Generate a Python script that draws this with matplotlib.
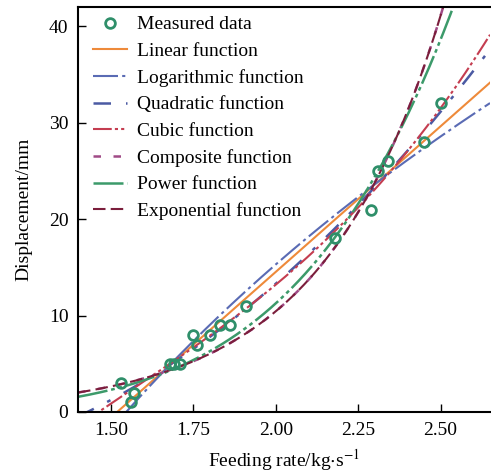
import matplotlib
matplotlib.use("Agg")
import matplotlib.pyplot as plt
import numpy as np

plt.rcParams['font.family'] = ['Liberation Serif', 'DejaVu Serif']
plt.rcParams['mathtext.fontset'] = 'stix'

# measured points
feed_rate = [1.53, 1.57, 1.56, 1.68, 1.69, 1.71, 1.75, 1.76, 1.80, 1.83, 1.86,
             1.91, 2.18, 2.29, 2.31, 2.34, 2.45, 2.50]
displacement = [3, 2, 1, 5, 5, 5, 8, 7, 8, 9, 9, 11, 18, 21, 25, 26, 28, 32]

x = np.array(feed_rate)
y = np.array(displacement)
xs = np.linspace(1.40, 2.65, 300)

# regression curves fitted to the measured data
lin = np.polyval(np.polyfit(x, y, 1), xs)
log_c = np.polyfit(np.log(x), y, 1)
logf = np.polyval(log_c, np.log(xs))
quad = np.polyval(np.polyfit(x, y, 2), xs)
cub = np.polyval(np.polyfit(x, y, 3), xs)
exp_c = np.polyfit(x, np.log(y), 1)
comp = np.exp(np.polyval(exp_c, xs))
pow_c = np.polyfit(np.log(x), np.log(y), 1)
powf = np.exp(np.polyval(pow_c, np.log(xs)))
expf = np.exp(np.polyval(exp_c, xs))

fig = plt.figure(figsize=(4.91, 4.73), dpi=100)
ax = fig.add_axes([0.159, 0.129, 0.839, 0.856])

ax.plot(x, y, 'o', ms=7, mfc='none', mec='#2f8f6a', mew=2, label='Measured data', zorder=5)
ax.plot(xs, lin, color='#ee8a3a', lw=1.5, label='Linear function')
ax.plot(xs, logf, color='#5a6bb4', lw=1.5, dashes=(12, 2, 1.5, 2), label='Logarithmic function')
ax.plot(xs, quad, color='#4b5aa3', lw=1.8, dashes=(7, 6, 1.5, 6), label='Quadratic function')
ax.plot(xs, cub, color='#c43d50', lw=1.5, dashes=(9, 1.5, 1.5, 1.5, 1.5, 1.5), label='Cubic function')
ax.plot(xs, comp, color='#a04a86', lw=1.8, dashes=(3, 5), label='Composite function')
ax.plot(xs, powf, color='#3c9a6a', lw=1.8, dashes=(12, 1.5, 1.5, 1.5, 1.5, 1.5), label='Power function')
ax.plot(xs, expf, color='#7b1e3c', lw=1.5, dashes=(6, 2.5), label='Exponential function')

ax.set_xlim(1.40, 2.65)
ax.set_ylim(0, 42)
ax.set_xticks([1.50, 1.75, 2.00, 2.25, 2.50])
ax.set_yticks([0, 10, 20, 30, 40])
ax.tick_params(direction='in', labelsize=14, length=6, width=1, pad=7)
ax.spines['right'].set_visible(False)
for s in ['left', 'bottom', 'top']:
    ax.spines[s].set_linewidth(1.5)

ax.set_xlabel(r'Feeding rate/kg$\cdot$s$^{-1}$', fontsize=14, labelpad=6)
ax.set_ylabel('Displacement/mm', fontsize=14, labelpad=12)

ax.legend(loc='upper left', bbox_to_anchor=(0.015, 1.0), frameon=False, fontsize=14,
          labelspacing=0.46, handlelength=1.75, handletextpad=0.5,
          borderaxespad=0.15, borderpad=0.3)

fig.savefig('out.png', dpi=100)
